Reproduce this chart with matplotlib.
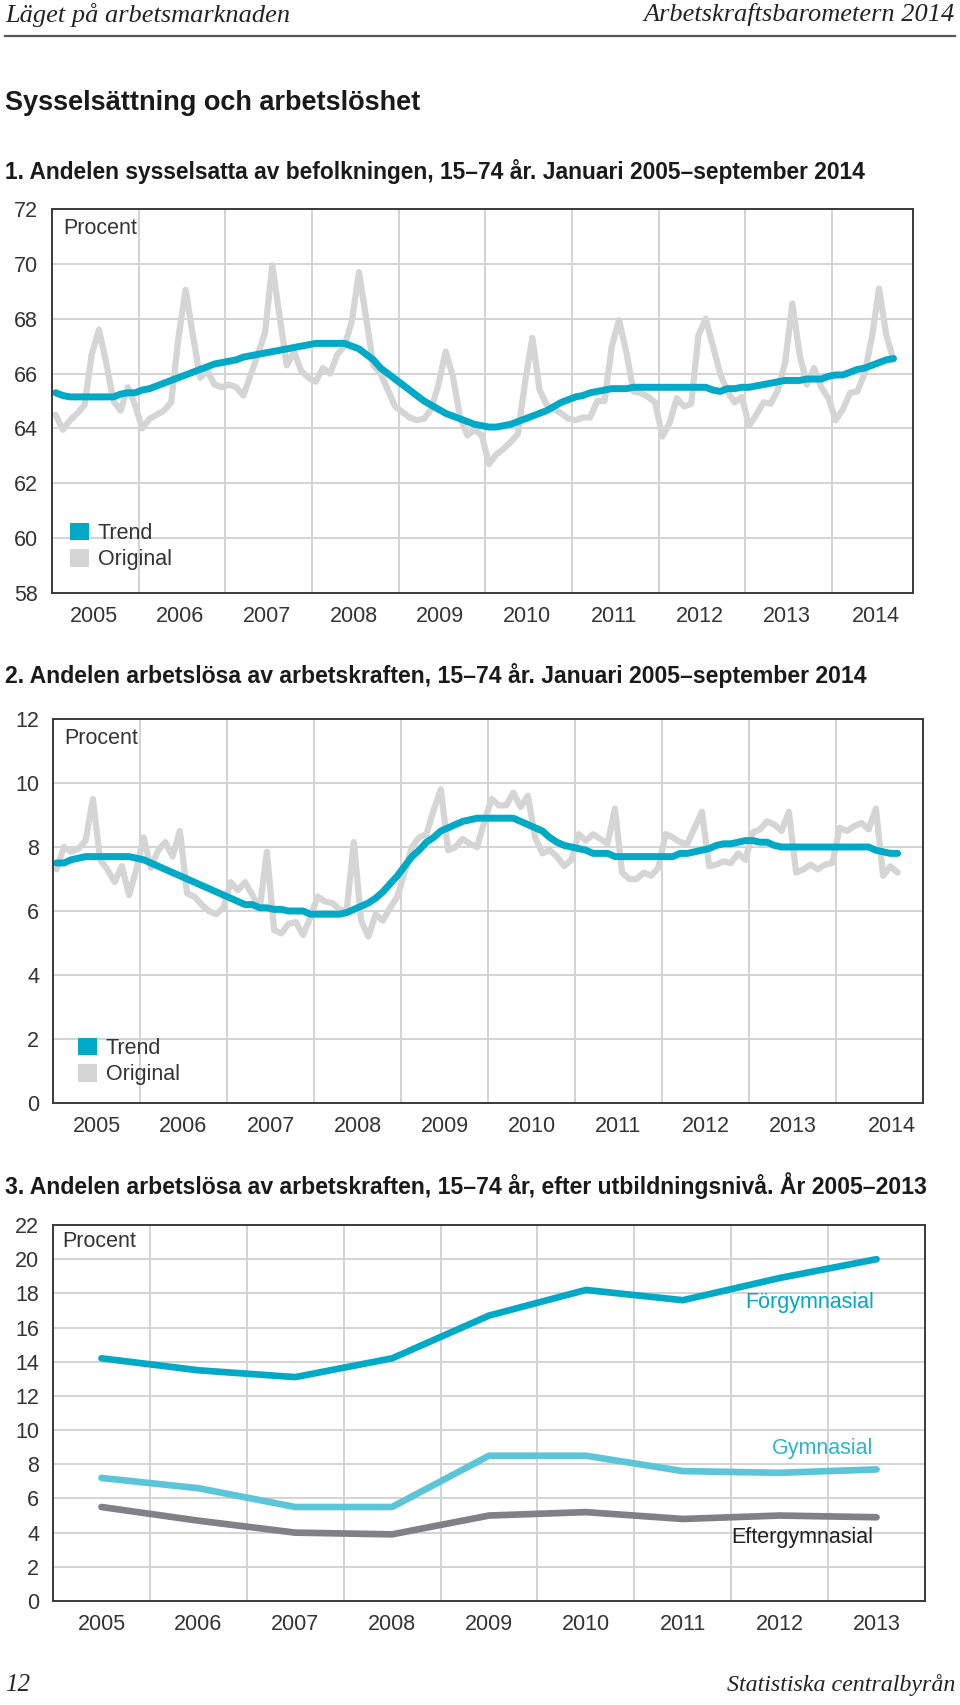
import matplotlib
matplotlib.use("Agg")
import matplotlib.pyplot as plt
from matplotlib.patches import Patch
from matplotlib.lines import Line2D
import numpy as np

plt.rcParams["font.family"] = ["Liberation Sans", "DejaVu Sans"]

TEAL = "#00A9C5"
LIGHT_TEAL = "#5CC6D8"
DARK_GREY = "#808086"
ORIG = "#D5D5D5"
GRID = "#D3D3D3"
TEXT = "#333333"
FS = 15.5

year_labels = ["2005", "2006", "2007", "2008", "2009", "2010", "2011", "2012", "2013", "2014"]

# Diagram 1: sysselsatta, procent, jan 2005 - sep 2014
emp_trend = [
    65.3, 65.2, 65.15, 65.15, 65.15, 65.15, 65.15, 65.15, 65.15, 65.25, 65.3, 65.3,
    65.4, 65.45, 65.55, 65.65, 65.75, 65.85, 65.95, 66.05, 66.15, 66.25, 66.35, 66.4,
    66.45, 66.5, 66.6, 66.65, 66.7, 66.75, 66.8, 66.85, 66.9, 66.95, 67.0, 67.05,
    67.1, 67.1, 67.1, 67.1, 67.1, 67.0, 66.9, 66.7, 66.5, 66.2, 66.0, 65.8,
    65.6, 65.4, 65.2, 65.0, 64.85, 64.7, 64.55, 64.45, 64.35, 64.25, 64.15, 64.1,
    64.05, 64.05, 64.1, 64.15, 64.25, 64.35, 64.45, 64.55, 64.65, 64.8, 64.95, 65.05,
    65.15, 65.2, 65.3, 65.35, 65.4, 65.45, 65.45, 65.45, 65.5, 65.5, 65.5, 65.5,
    65.5, 65.5, 65.5, 65.5, 65.5, 65.5, 65.5, 65.4, 65.35, 65.45, 65.45, 65.5,
    65.5, 65.55, 65.6, 65.65, 65.7, 65.75, 65.75, 65.75, 65.8, 65.8, 65.8, 65.9,
    65.95, 65.95, 66.05, 66.15, 66.2, 66.3, 66.4, 66.5, 66.55,
]
emp_orig = [
    64.5, 63.95, 64.3, 64.55, 64.85, 66.7, 67.6, 66.4, 65.0, 64.65, 65.5, 64.85,
    64.0, 64.35, 64.5, 64.65, 64.95, 67.3, 69.05, 67.4, 65.85, 66.1, 65.6, 65.5,
    65.6, 65.5, 65.2, 65.95, 66.7, 67.5, 69.95, 68.1, 66.3, 66.8, 66.1, 65.85,
    65.7, 66.2, 66.0, 66.7, 67.0, 67.9, 69.7, 68.0, 66.3, 66.0, 65.4, 64.8,
    64.6, 64.4, 64.3, 64.35, 64.7, 65.6, 66.8, 65.9, 64.4, 63.75, 63.95, 63.75,
    62.7, 63.05, 63.25, 63.5, 63.8, 65.7, 67.3, 65.4, 64.85, 64.7, 64.55, 64.35,
    64.3, 64.4, 64.4, 65.0, 65.0, 67.0, 67.95, 66.8, 65.35, 65.3, 65.15, 64.95,
    63.7, 64.2, 65.1, 64.8, 64.9, 67.4, 68.0, 67.0, 66.0, 65.35, 64.95, 65.15,
    64.1, 64.5, 64.95, 64.9, 65.4, 66.4, 68.55, 66.7, 65.6, 66.2, 65.5, 65.1,
    64.3, 64.7, 65.3, 65.35, 66.0, 67.3, 69.1, 67.4, 66.5,
]

# Diagram 2: arbetslösa, procent, jan 2005 - sep 2014
unemp_trend = [
    7.5, 7.5, 7.6, 7.65, 7.7, 7.7, 7.7, 7.7, 7.7, 7.7, 7.7, 7.65,
    7.6, 7.5, 7.4, 7.3, 7.2, 7.1, 7.0, 6.9, 6.8, 6.7, 6.6, 6.5,
    6.4, 6.3, 6.2, 6.2, 6.1, 6.1, 6.05, 6.05, 6.0, 6.0, 6.0, 5.9,
    5.9, 5.9, 5.9, 5.9, 5.95, 6.05, 6.15, 6.25, 6.4, 6.6, 6.85, 7.1,
    7.4, 7.7, 7.9, 8.15, 8.3, 8.5, 8.6, 8.7, 8.8, 8.85, 8.9, 8.9,
    8.9, 8.9, 8.9, 8.9, 8.8, 8.7, 8.6, 8.5, 8.3, 8.15, 8.05, 8.0,
    7.95, 7.9, 7.8, 7.8, 7.8, 7.7, 7.7, 7.7, 7.7, 7.7, 7.7, 7.7,
    7.7, 7.7, 7.8, 7.8, 7.85, 7.9, 7.95, 8.05, 8.1, 8.1, 8.15, 8.2,
    8.2, 8.15, 8.15, 8.05, 8.0, 8.0, 8.0, 8.0, 8.0, 8.0, 8.0, 8.0,
    8.0, 8.0, 8.0, 8.0, 8.0, 7.9, 7.85, 7.8, 7.8,
]
unemp_orig = [
    7.3, 8.0, 7.85, 7.95, 8.2, 9.5, 7.6, 7.3, 6.9, 7.4, 6.5, 7.3,
    8.3, 7.35, 7.9, 8.15, 7.7, 8.5, 6.55, 6.45, 6.2, 6.0, 5.9, 6.1,
    6.9, 6.65, 6.9, 6.5, 6.05, 7.85, 5.4, 5.3, 5.6, 5.65, 5.25, 5.8,
    6.45, 6.3, 6.25, 6.05, 6.0, 8.15, 5.7, 5.2, 5.9, 5.7, 6.1, 6.45,
    7.2, 8.0, 8.3, 8.4, 9.15, 9.8, 7.9, 8.0, 8.25, 8.1, 8.0, 8.8,
    9.5, 9.3, 9.3, 9.7, 9.25, 9.6, 8.3, 7.8, 7.9, 7.7, 7.4, 7.6,
    8.4, 8.2, 8.4, 8.25, 8.1, 9.2, 7.2, 7.0, 7.0, 7.2, 7.1, 7.35,
    8.4, 8.3, 8.15, 8.1, 8.6, 9.1, 7.4, 7.45, 7.55, 7.5, 7.8, 7.6,
    8.45, 8.55, 8.8, 8.7, 8.5, 9.1, 7.2, 7.3, 7.45, 7.3, 7.45, 7.5,
    8.6, 8.5, 8.65, 8.75, 8.55, 9.2, 7.1, 7.4, 7.2,
]

# Diagram 3: arbetslösa efter utbildningsnivå, år 2005-2013
edu_years = ["2005", "2006", "2007", "2008", "2009", "2010", "2011", "2012", "2013"]
forgymnasial = [14.2, 13.5, 13.1, 14.2, 16.7, 18.2, 17.6, 18.9, 20.0]
gymnasial = [7.2, 6.6, 5.5, 5.5, 8.5, 8.5, 7.6, 7.5, 7.7]
eftergymnasial = [5.5, 4.7, 4.0, 3.9, 5.0, 5.2, 4.8, 5.0, 4.9]

W, H = 960, 1705
fig = plt.figure(figsize=(W / 100, H / 100), dpi=100)


def px_axes(left, top, right, bottom):
    return fig.add_axes([left / W, 1 - bottom / H, (right - left) / W, (bottom - top) / H])


def style(ax):
    ax.set_axisbelow(True)
    for s in ax.spines.values():
        s.set_color("#3a3a3a")
        s.set_linewidth(1.4)
    ax.grid(True, which="major", color=GRID, linewidth=1.4)
    ax.tick_params(axis="both", which="both", length=0, labelsize=FS, labelcolor=TEXT)
    ax.tick_params(axis="y", pad=10)
    ax.tick_params(axis="x", which="both", pad=9)


def procent(ax):
    ax.text(0.013, 0.95, "Procent", transform=ax.transAxes, ha="left", va="center",
            fontsize=FS, color=TEXT)


def legend(ax, anchor):
    handles = [Patch(facecolor=TEAL, edgecolor="none", label="Trend"),
               Patch(facecolor=ORIG, edgecolor="none", label="Original")]
    ax.legend(handles=handles, loc="lower left", bbox_to_anchor=anchor, frameon=False,
              borderpad=0, borderaxespad=0, handlelength=0.9, handleheight=0.9,
              handletextpad=0.4, labelspacing=0.22, fontsize=FS, labelcolor=TEXT)


def monthly_chart(ax, trend, orig, ylim, xmax, label_pos, anchor):
    x = np.arange(len(trend)) + 0.5
    ax.plot(x, orig, color=ORIG, lw=4.5, solid_joinstyle="round", solid_capstyle="round")
    ax.plot(x, trend, color=TEAL, lw=5, solid_joinstyle="round", solid_capstyle="round")
    ax.set_xlim(0, xmax)
    ax.set_ylim(*ylim)
    ax.set_yticks(np.arange(ylim[0], ylim[1] + 1, 2))
    ax.set_xticks(np.arange(12, 120, 12))
    ax.set_xticklabels([])
    ax.set_xticks(label_pos, minor=True)
    ax.set_xticklabels(year_labels, minor=True)
    style(ax)
    procent(ax)
    legend(ax, anchor)


# Chart 1
ax1 = px_axes(52, 209, 913, 593)
monthly_chart(ax1, emp_trend, emp_orig, (58, 72), 119.2,
              [5.75, 17.75, 29.75, 41.75, 53.75, 65.75, 77.75, 89.75, 101.75, 114],
              (18 / 861, 23 / 384))

# Chart 2
ax2 = px_axes(53, 719, 923, 1103)
monthly_chart(ax2, unemp_trend, unemp_orig, (0, 12), 120,
              [6, 18, 30, 42, 54, 66, 78, 90, 102, 115.7],
              (25 / 870, 18 / 384))

# Chart 3
ax3 = px_axes(53, 1225, 925, 1601)
xe = np.arange(len(edu_years))
ax3.plot(xe, forgymnasial, color=TEAL, lw=4.8, solid_capstyle="round", solid_joinstyle="round")
ax3.plot(xe, gymnasial, color=LIGHT_TEAL, lw=4.8, solid_capstyle="round", solid_joinstyle="round")
ax3.plot(xe, eftergymnasial, color=DARK_GREY, lw=4.8, solid_capstyle="round", solid_joinstyle="round")
ax3.set_xlim(-0.5, 8.5)
ax3.set_ylim(0, 22)
ax3.set_yticks(np.arange(0, 23, 2))
ax3.set_xticks(np.arange(0.5, 8, 1))
ax3.set_xticklabels([])
ax3.set_xticks(xe, minor=True)
ax3.set_xticklabels(edu_years, minor=True)
style(ax3)
ax3.text(0.011, 0.957, "Procent", transform=ax3.transAxes, ha="left", va="center",
         fontsize=FS, color=TEXT)
ax3.text(7.97, 17.45, "Förgymnasial", color=TEAL, ha="right", va="center", fontsize=FS)
ax3.text(7.97, 8.95, "Gymnasial", color="#2FB3C9", ha="right", va="center", fontsize=FS)
ax3.text(7.97, 3.7, "Eftergymnasial", color="#222222", ha="right", va="center", fontsize=FS)

# Page texts
serif = ["Liberation Serif", "DejaVu Serif"]
fig.text(5 / W, 1 - 15 / H, "Läget på arbetsmarknaden", family=serif, style="italic",
         fontsize=19, color="#222222", ha="left", va="center")
fig.text(955 / W, 1 - 15 / H, "Arbetskraftsbarometern 2014", family=serif, style="italic",
         fontsize=19, color="#222222", ha="right", va="center")
fig.add_artist(Line2D([5 / W, 955 / W], [1 - 36 / H, 1 - 36 / H], color="#555555", lw=1.6))

fig.text(5 / W, 1 - 103 / H, "Sysselsättning och arbetslöshet", fontsize=19.5,
         fontweight="bold", color="#1a1a1a", ha="left", va="center")
fig.text(5 / W, 1 - 171 / H,
         "1. Andelen sysselsatta av befolkningen, 15–74 år. Januari 2005–september 2014",
         fontsize=16.4, fontweight="bold", color="#1a1a1a", ha="left", va="center")
fig.text(5 / W, 1 - 675 / H,
         "2. Andelen arbetslösa av arbetskraften, 15–74 år. Januari 2005–september 2014",
         fontsize=16.6, fontweight="bold", color="#1a1a1a", ha="left", va="center")
fig.text(5 / W, 1 - 1186 / H,
         "3. Andelen arbetslösa av arbetskraften, 15–74 år, efter utbildningsnivå. År 2005–2013",
         fontsize=16.6, fontweight="bold", color="#1a1a1a", ha="left", va="center")

fig.text(5 / W, 1 - 1685 / H, "12", family=serif, style="italic", fontsize=18,
         color="#222222", ha="left", va="center")
fig.text(955 / W, 1 - 1685 / H, "Statistiska centralbyrån", family=serif, style="italic",
         fontsize=17.3, color="#222222", ha="right", va="center")

fig.savefig("out.png", dpi=100, facecolor="white")
